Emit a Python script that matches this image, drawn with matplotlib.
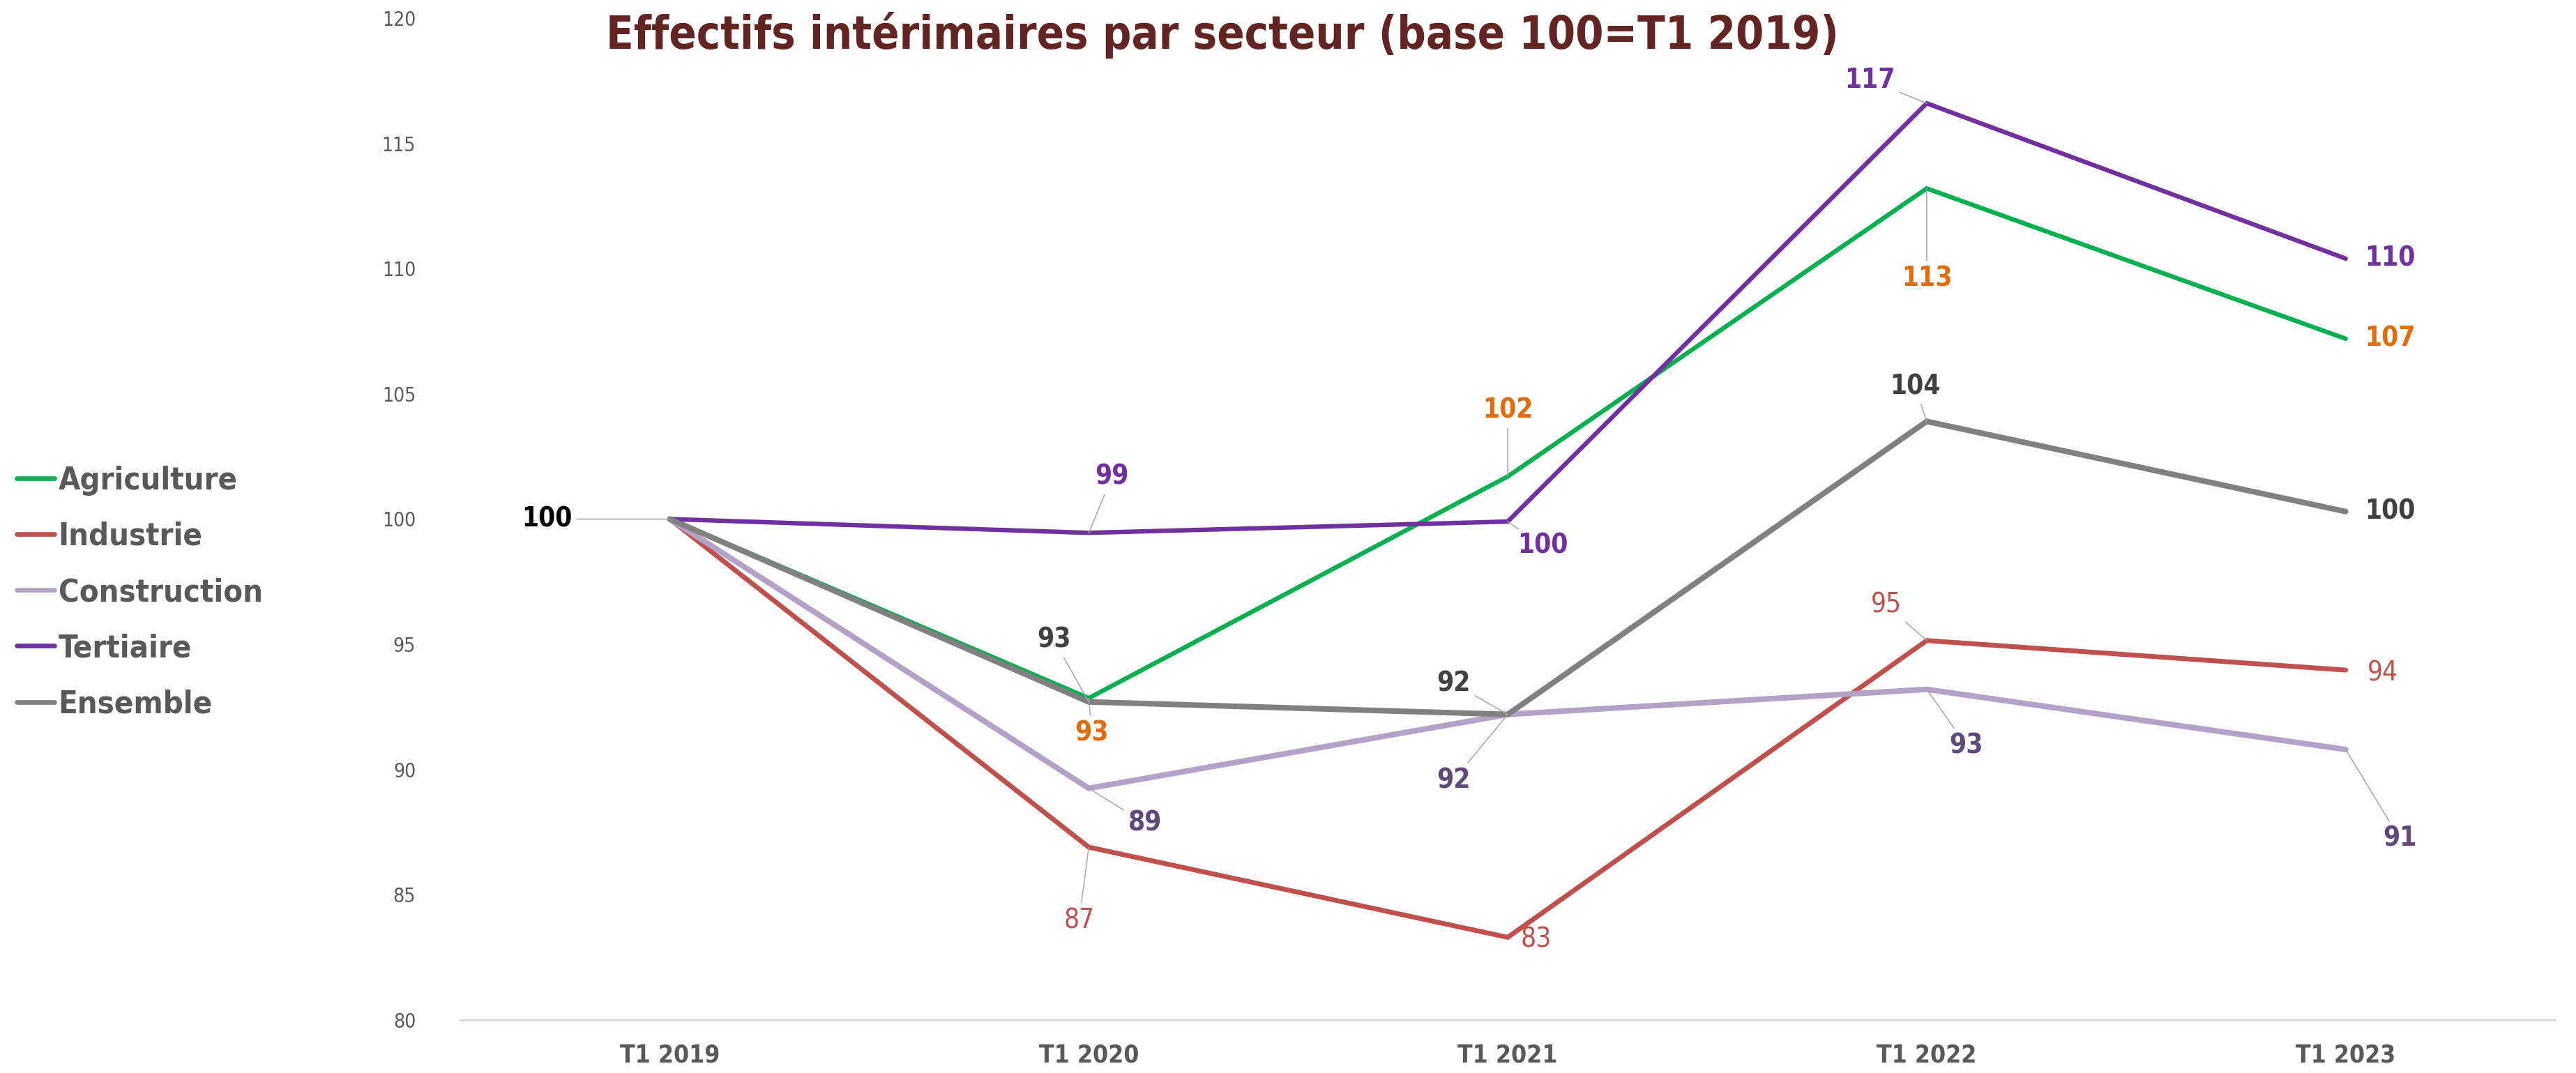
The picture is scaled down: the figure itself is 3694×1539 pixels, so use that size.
import os
import matplotlib
matplotlib.use("Agg")
import matplotlib.pyplot as plt
from matplotlib.lines import Line2D
from matplotlib import font_manager as fm

# ---- data ----
categories = ["T1 2019", "T1 2020", "T1 2021", "T1 2022", "T1 2023"]
agriculture = [100, 92.85, 101.7, 113.2, 107.2]
industrie = [100, 86.9, 83.3, 95.15, 93.97]
construction = [100, 89.25, 92.2, 93.2, 90.8]
tertiaire = [100, 99.45, 99.9, 116.6, 110.4]
ensemble = [100, 92.7, 92.2, 103.9, 100.3]
series_names = ["Agriculture", "Industrie", "Construction", "Tertiaire", "Ensemble"]
title = "Effectifs intérimaires par secteur (base 100=T1 2019)"
yticks = [80, 85, 90, 95, 100, 105, 110, 115, 120]

series = [agriculture, industrie, construction, tertiaire, ensemble]
line_colors = ["#00B050", "#C0504D", "#B3A2C7", "#7030A0", "#808080"]
line_widths = [4.6, 5.0, 5.8, 4.6, 5.8]
label_colors = ["#E36C09", "#C0504D", "#5F497A", "#7030A0", "#404040"]
label_bold = [True, False, True, True, True]

# label offsets in points (dx, dy); None = no label
offsets = [
    [None, (3, -36), (0, 68), (0, -93), (46, 0)],
    [None, (-10, -76), (29, -2), (-42, 37), (38, -3)],
    [None, (58, -36), (-56, -68), (41, -58), (56, -92)],
    [None, (24, 58), (36, -25), (-59, 24), (46, 0)],
    [(-127, 0), (-36, 64), (-56, 32), (-12, 36), (46, 0)],
]
leaders = [
    [False, True, True, True, False],
    [False, True, False, True, False],
    [False, True, True, True, True],
    [False, True, True, True, False],
    [True, True, True, True, False],
]


# ---- fonts: prefer a narrow face (the original uses Calibri) ----
def find_font(cands):
    files = {os.path.basename(f.fname): f.fname for f in fm.fontManager.ttflist}
    for c in cands:
        if c in files:
            return files[c]
    return None

reg_file = find_font(["LiberationSansNarrow-Regular.ttf", "DejaVuSansCondensed.ttf"])
bold_file = find_font(["LiberationSansNarrow-Bold.ttf", "DejaVuSansCondensed-Bold.ttf"])


def fp(bold, size):
    f = bold_file if bold else reg_file
    if f:
        return fm.FontProperties(fname=f, size=size)
    return fm.FontProperties(family='DejaVu Sans', weight='bold' if bold else 'normal', size=size)


fig = plt.figure(figsize=(36.94, 15.39), dpi=100)
renderer = fig.canvas.get_renderer()


def fit(text, bold, target_px, boost=1.0):
    t = fig.text(0, 0, text, fontproperties=fp(bold, 100))
    w = t.get_window_extent(renderer=renderer).width
    t.remove()
    return 100 * target_px / w * boost

s_title = fit(title, True, 1734, 1.02)
s_label = fit("100", True, 63, 1.15)
s_leg = fit("Agriculture", True, 245, 1.05)
s_xt = fit("T1 2019", True, 138, 1.04)
s_yt = fit("120", False, 47, 1.03)

ax = fig.add_axes([0.1787, 0.0494, 0.9919 - 0.1787, 0.9831 - 0.0494])

x = list(range(len(categories)))
handles = []
for i, (vals, name) in enumerate(zip(series, series_names)):
    ax.plot(x, vals, color=line_colors[i], lw=line_widths[i],
            solid_capstyle='round', solid_joinstyle='miter', label=name,
            zorder=3 + i)
    handles.append(Line2D([], [], color=line_colors[i], lw=4.8, solid_capstyle='round'))
    for j, v in enumerate(vals):
        off = offsets[i][j]
        if off is None:
            continue
        col = "#000000" if (i == 4 and j == 0) else label_colors[i]
        ap = None
        if leaders[i][j]:
            ap = dict(arrowstyle='-', color='#A6A6A6', lw=1.1, shrinkA=3, shrinkB=0)
        ax.annotate(f"{v:.0f}", (j, v), xytext=off, textcoords='offset points',
                    ha='center', va='center', color=col,
                    fontproperties=fp(label_bold[i], s_label),
                    arrowprops=ap, zorder=10)

ax.set_xlim(-0.5, len(categories) - 0.5)
ax.set_ylim(80, 120)
ax.set_yticks(yticks)
ax.set_yticklabels([str(t) for t in yticks], fontproperties=fp(False, s_yt), color='#595959')
ax.set_xticks(x)
ax.set_xticklabels(categories, fontproperties=fp(True, s_xt), color='#595959')
ax.tick_params(axis='y', length=0, pad=46)
ax.tick_params(axis='x', length=0, pad=24)
for s in ['top', 'right', 'left']:
    ax.spines[s].set_visible(False)
ax.spines['bottom'].set_color('#D9D9D9')
ax.spines['bottom'].set_linewidth(2.2)

fig.text(0.4746, 0.967, title, ha='center', va='center',
         fontproperties=fp(True, s_title), color='#632523')

leg = fig.legend(handles, series_names, loc='center left',
                 bbox_to_anchor=(0.0065, 0.448), frameon=False,
                 handlelength=39 / s_leg, handletextpad=0.12,
                 labelspacing=max(0.1, 58 / s_leg - 0.96),
                 borderpad=0, borderaxespad=0,
                 prop=fp(True, s_leg))
for t in leg.get_texts():
    t.set_color('#595959')

fig.savefig("out.png", dpi=100)
